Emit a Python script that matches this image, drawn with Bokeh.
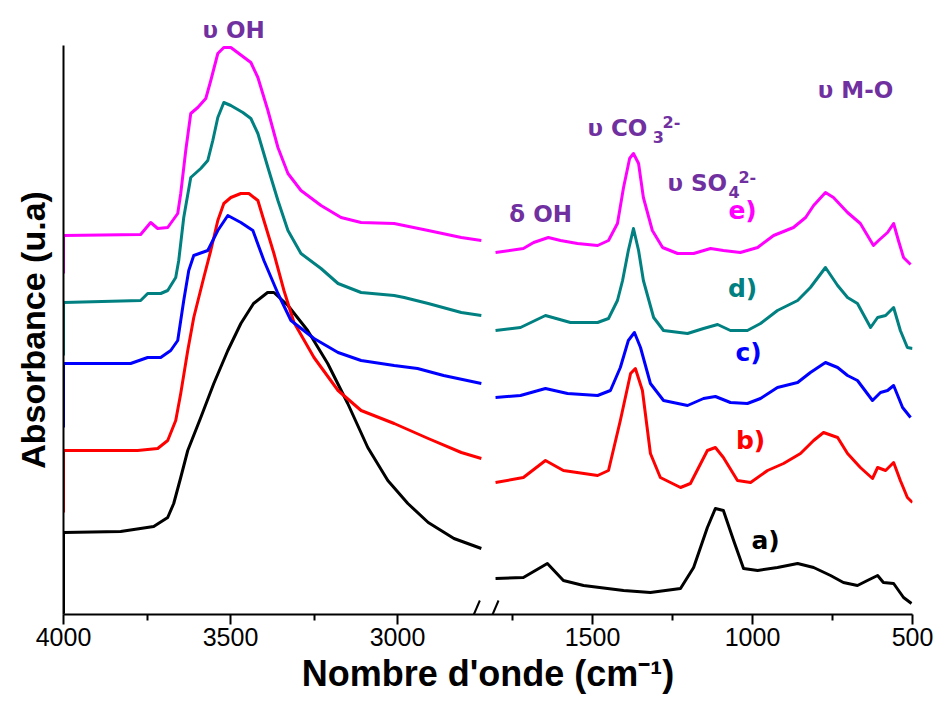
from bokeh.plotting import figure
from bokeh.models import Range1d, FixedTicker
from bokeh.core.properties import value
from bokeh.embed import file_html
from bokeh.resources import INLINE

# ---------------- data (wavenumber cm-1, absorbance a.u.) ----------------
# e) magenta
e_left_wn = [4000, 4000, 3769, 3739, 3718, 3688, 3658, 3649, 3634, 3619, 3598, 3574, 3559, 3538, 3520, 3499,
             3475, 3439, 3418, 3388, 3358, 3328, 3289, 3229, 3169, 3109, 3010, 2908, 2809, 2749]
e_left_ab = [3.41, 3.79, 3.80, 3.92, 3.86, 3.87, 4.01, 4.21, 4.64, 5.01, 5.07, 5.16, 5.34, 5.61, 5.67, 5.67,
             5.61, 5.52, 5.37, 5.04, 4.67, 4.41, 4.24, 4.09, 3.97, 3.92, 3.91, 3.84, 3.77, 3.74]
e_right_wn = [1803, 1716, 1684, 1638, 1600, 1547, 1484, 1450, 1422, 1403, 1384, 1372, 1356, 1341, 1313, 1281,
              1234, 1184, 1131, 1091, 1038, 984, 934, 872, 834, 809, 772, 747, 703, 663, 622, 606, 578, 559,
              544, 528, 506]
e_right_ab = [3.62, 3.66, 3.72, 3.77, 3.74, 3.71, 3.69, 3.74, 3.91, 4.27, 4.56, 4.61, 4.51, 4.17, 3.84, 3.67,
              3.61, 3.61, 3.66, 3.64, 3.62, 3.67, 3.79, 3.87, 3.97, 4.09, 4.22, 4.17, 4.02, 3.91, 3.69, 3.74,
              3.82, 3.91, 3.74, 3.57, 3.50]

# d) teal
d_left_wn = [4000, 4000, 3769, 3748, 3709, 3688, 3664, 3655, 3640, 3619, 3589, 3568, 3553, 3538, 3520, 3499,
             3463, 3439, 3418, 3388, 3358, 3328, 3289, 3229, 3178, 3109, 3010, 2980, 2908, 2809, 2749]
d_left_ab = [2.59, 3.12, 3.14, 3.21, 3.21, 3.24, 3.37, 3.54, 3.97, 4.37, 4.46, 4.54, 4.74, 4.97, 5.12, 5.09,
             5.02, 4.96, 4.81, 4.47, 4.14, 3.84, 3.61, 3.46, 3.31, 3.22, 3.19, 3.17, 3.11, 3.02, 2.99]
d_right_wn = [1803, 1725, 1647, 1569, 1484, 1450, 1422, 1406, 1388, 1372, 1356, 1341, 1309, 1278, 1203, 1153,
              1109, 1069, 1016, 975, 922, 859, 819, 772, 734, 703, 672, 631, 609, 584, 559, 538, 516, 500]
d_right_ab = [2.84, 2.87, 2.99, 2.92, 2.92, 2.96, 3.14, 3.34, 3.64, 3.86, 3.64, 3.34, 2.97, 2.84, 2.81, 2.86,
              2.90, 2.84, 2.84, 2.91, 3.04, 3.14, 3.27, 3.47, 3.29, 3.17, 3.11, 2.87, 2.97, 2.99, 3.07, 2.84,
              2.67, 2.66]

# c) blue
c_left_wn = [4000, 4000, 3799, 3748, 3709, 3679, 3658, 3640, 3625, 3610, 3568, 3538, 3508, 3469, 3433, 3400,
             3358, 3319, 3250, 3178, 3109, 3010, 2940, 2862, 2749]
c_left_ab = [1.87, 2.51, 2.51, 2.57, 2.57, 2.64, 2.74, 3.14, 3.44, 3.59, 3.64, 3.84, 3.99, 3.92, 3.84, 3.54,
             3.21, 2.94, 2.76, 2.62, 2.54, 2.49, 2.46, 2.39, 2.31]
c_right_wn = [1803, 1725, 1647, 1578, 1484, 1444, 1413, 1388, 1369, 1350, 1319, 1278, 1203, 1153, 1116, 1069,
              1016, 975, 922, 859, 819, 772, 734, 703, 672, 625, 600, 578, 559, 531, 506]
c_right_ab = [2.17, 2.19, 2.26, 2.21, 2.19, 2.24, 2.47, 2.74, 2.82, 2.67, 2.31, 2.14, 2.09, 2.16, 2.18, 2.12,
              2.11, 2.16, 2.27, 2.32, 2.42, 2.52, 2.47, 2.39, 2.34, 2.14, 2.22, 2.24, 2.29, 2.07, 1.97]

# b) red
b_left_wn = [4000, 4000, 3778, 3718, 3688, 3664, 3649, 3628, 3610, 3580, 3559, 3538, 3520, 3499, 3469, 3445,
             3418, 3400, 3370, 3340, 3310, 3250, 3178, 3109, 3010, 2908, 2809, 2749]
b_left_ab = [1.02, 1.64, 1.64, 1.66, 1.74, 1.94, 2.21, 2.64, 2.97, 3.37, 3.64, 3.94, 4.11, 4.17, 4.21, 4.21,
             4.14, 3.94, 3.61, 3.24, 2.92, 2.57, 2.24, 2.04, 1.91, 1.76, 1.62, 1.56]
b_right_wn = [1803, 1716, 1647, 1591, 1484, 1450, 1413, 1381, 1366, 1344, 1319, 1288, 1225, 1194, 1141, 1116,
              1091, 1047, 1006, 953, 903, 850, 809, 778, 734, 703, 663, 625, 609, 584, 559, 538, 516, 500]
b_right_ab = [1.32, 1.37, 1.54, 1.44, 1.39, 1.44, 1.94, 2.41, 2.46, 2.24, 1.61, 1.37, 1.27, 1.31, 1.64, 1.67,
              1.57, 1.34, 1.32, 1.44, 1.51, 1.61, 1.74, 1.82, 1.77, 1.61, 1.47, 1.36, 1.47, 1.44, 1.52, 1.34,
              1.17, 1.12]

# a) black
a_left_wn = [4000, 4000, 3829, 3730, 3688, 3670, 3649, 3628, 3589, 3550, 3508, 3469, 3431, 3389, 3370, 3328,
             3269, 3209, 3149, 3089, 3029, 2969, 2908, 2831, 2749]
a_left_ab = [0.01, 0.82, 0.83, 0.88, 0.97, 1.11, 1.37, 1.64, 1.97, 2.31, 2.64, 2.91, 3.11, 3.22, 3.22, 3.09,
             2.84, 2.51, 2.11, 1.67, 1.34, 1.11, 0.92, 0.76, 0.66]
a_right_wn = [1803, 1716, 1641, 1591, 1528, 1403, 1319, 1225, 1184, 1141, 1116, 1091, 1059, 1028, 984, 922,
              859, 809, 756, 716, 672, 641, 609, 591, 559, 528, 503]
a_right_ab = [0.36, 0.37, 0.51, 0.34, 0.29, 0.24, 0.22, 0.26, 0.47, 0.87, 1.06, 1.04, 0.74, 0.46, 0.44, 0.47,
              0.51, 0.47, 0.39, 0.32, 0.29, 0.34, 0.39, 0.32, 0.31, 0.17, 0.11]

major_ticks = [4000, 3500, 3000, 1500, 1000, 500]
minor_ticks = [3750, 3250, 1750, 1250, 750]
series_labels = ["a)", "b)", "c)", "d)", "e)"]
series_colors = ["#000000", "#FF0000", "#0000FF", "#008080", "#FF00FF"]
x_title = "Nombre d'onde (cm\u207b\u00b9)"
y_title = "Absorbance (u.a)"
top_band = "\u03c5 OH"

# ---------------- broken-axis transform ----------------
LEFT_K = 0.334    # px per cm-1 on the 4000 -> 2750 segment
RIGHT_K = 0.32    # px per cm-1 on the 1800 -> 500 segment
SPAN = 849        # axis length in px


def brk(w):
    if w >= 2300:
        return (4000 - w) * LEFT_K
    return SPAN - (w - 500) * RIGHT_K


def brk_all(ws):
    return [brk(w) for w in ws]


PURPLE = "#7030A0"
ANN_FONT = "DejaVu Sans"

p = figure(width=941, height=704, x_range=Range1d(0, SPAN), y_range=Range1d(0, 5.69),
           output_backend="svg", toolbar_location=None, title=top_band,
           min_border_left=63, min_border_right=29, min_border_top=45, min_border_bottom=90)
p.outline_line_color = None
p.grid.visible = False
p.background_fill_color = "white"

# "υ OH" band label sits above the frame, as the plot title
p.title.align = "left"
p.title.offset = 139
p.title.text_font = ANN_FONT
p.title.text_font_style = "bold"
p.title.text_font_size = "23px"
p.title.text_color = PURPLE
p.title.standoff = 6

series = [
    (a_left_wn, a_left_ab, a_right_wn, a_right_ab),
    (b_left_wn, b_left_ab, b_right_wn, b_right_ab),
    (c_left_wn, c_left_ab, c_right_wn, c_right_ab),
    (d_left_wn, d_left_ab, d_right_wn, d_right_ab),
    (e_left_wn, e_left_ab, e_right_wn, e_right_ab),
]
for (lw_, la, rw, ra), col in zip(series, series_colors):
    p.line(brk_all(lw_), la, line_color=col, line_width=3, line_join="round")
    p.line(brk_all(rw), ra, line_color=col, line_width=3, line_join="round")

# break marks on the x axis
gap_l = brk(2749) - 3.5
gap_r = brk(1803) + 1
p.multi_line(xs=[[gap_l - 4.0, gap_l + 2.0], [gap_r - 4.0, gap_r + 2.0]],
             ys=[[0.0, 0.14], [0.0, 0.14]], line_color="black", line_width=2)

# x axis (bokeh's own axis on the broken coordinate)
tick_pos = [round(u) for u in brk_all(major_ticks)]
xa = p.xaxis[0]
xa.ticker = FixedTicker(ticks=tick_pos, minor_ticks=brk_all(minor_ticks))
xa.major_label_overrides = {tp: str(t) for tp, t in zip(tick_pos, major_ticks)}
xa.axis_line_width = 2
xa.axis_line_color = "black"
xa.major_tick_line_width = 2
xa.minor_tick_line_width = 2
xa.major_tick_line_color = "black"
xa.minor_tick_line_color = "black"
xa.major_tick_out = 10
xa.major_tick_in = 0
xa.minor_tick_out = 6
xa.minor_tick_in = 0
xa.major_label_text_font = "Liberation Sans"
xa.major_label_text_font_size = "25px"
xa.major_label_text_color = "black"
xa.major_label_standoff = 3
xa.axis_label = x_title
xa.axis_label_text_font = "Liberation Sans"
xa.axis_label_text_font_style = "bold"
xa.axis_label_text_font_size = "36px"
xa.axis_label_text_color = "black"
xa.axis_label_standoff = 4

# y axis: line and title, no ticks
ya = p.yaxis[0]
ya.ticker = FixedTicker(ticks=[])
ya.axis_line_width = 2
ya.axis_line_color = "black"
ya.major_tick_out = 0
ya.major_tick_in = 0
ya.minor_tick_out = 0
ya.minor_tick_in = 0
ya.major_label_standoff = 0
ya.axis_label = y_title
ya.axis_label_text_font = "Liberation Sans"
ya.axis_label_text_font_style = "bold"
ya.axis_label_text_font_size = "34px"
ya.axis_label_text_color = "black"
ya.axis_label_standoff = 12


def ann(x, y, text, size="23px", align="center", color=PURPLE):
    p.text(x=[x], y=[y], text=[text], text_align=align, text_baseline="middle",
           text_font=value(ANN_FONT), text_font_style="bold", text_font_size=size, text_color=color)


ann(brk(1662), 4.01, "\u03b4 OH")
ann(brk(1516), 4.87, "\u03c5 CO", align="left")
ann(brk(1312), 4.78, "3", size="16px", align="left")
ann(brk(1281), 4.93, "2-", size="16px", align="left")
ann(brk(1266), 4.32, "\u03c5 SO", align="left")
ann(brk(1075), 4.23, "4", size="16px", align="left")
ann(brk(1044), 4.38, "2-", size="16px", align="left")
ann(brk(678), 5.25, "\u03c5 M-O")

# series letters
lab_pos = [(959, 0.74), (1006, 1.74), (1012, 2.62), (1031, 3.26), (1031, 4.04)]
for (xw, yv), t, c in zip(lab_pos, series_labels, series_colors):
    ann(brk(xw), yv, t, size="25px", color=c)

open("out.html", "w").write(file_html(p, INLINE))
